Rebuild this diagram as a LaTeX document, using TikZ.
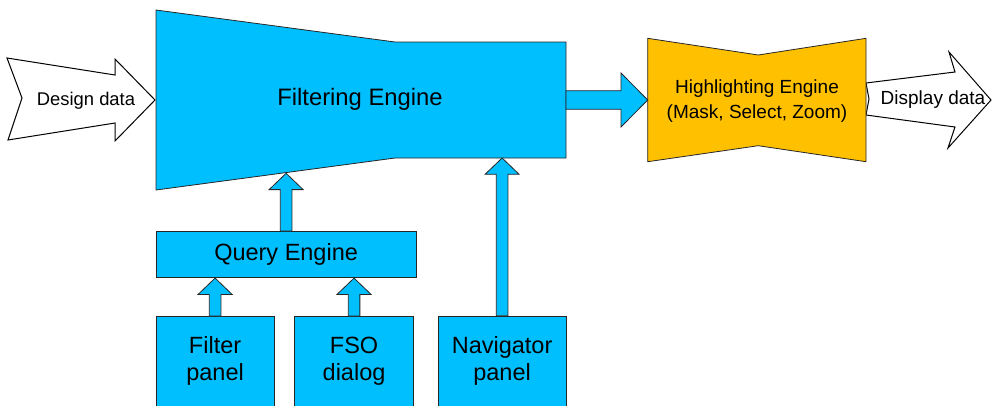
\documentclass[tikz,border=0pt]{standalone}
\usepackage{fontspec}
\setmainfont{Liberation Sans}
\usetikzlibrary{calc}
\definecolor{skyblue}{HTML}{00BFFF}
\definecolor{amber}{HTML}{FFC000}
\tikzset{
  outline/.style={draw=black!85, line width=0.8pt, line join=miter},
  bluefill/.style={outline, fill=skyblue},
  amberfill/.style={outline, fill=amber},
  whitefill/.style={draw=black, line width=1pt, line join=miter, fill=white},
  box/.style={bluefill, rectangle, inner sep=0pt, align=center,
    font=\fontsize{23.5}{27}\selectfont},
  caption/.style={inner sep=0pt, align=center},
}
% vertical block arrow: #1 = tail (on a box top), #2 = point whose height gives the tip
\newcommand{\upblock}[2]{%
  \path[bluefill] ($(#1)+(-5.8,0)$) -- ($(#1 |- #2)+(-5.8,16.3)$)
    -- ($(#1 |- #2)+(-17,16.3)$) -- (#1 |- #2) -- ($(#1 |- #2)+(17,16.3)$)
    -- ($(#1 |- #2)+(5.8,16.3)$) -- ($(#1)+(5.8,0)$) -- cycle;}
% horizontal block arrow: #1 = tail, #2 = tip
\newcommand{\rightblock}[2]{%
  \path[bluefill] ($(#1)+(0,-9.3)$) -- ($(#2 |- #1)+(-26.7,-9.3)$)
    -- ($(#2 |- #1)+(-26.7,-27)$) -- (#2 |- #1) -- ($(#2 |- #1)+(-26.7,27)$)
    -- ($(#2 |- #1)+(-26.7,9.3)$) -- ($(#1)+(0,9.3)$) -- cycle;}
\begin{document}
\begin{tikzpicture}[x=1pt, y=-1pt]
\path[use as bounding box] (0,0) rectangle (992,405);
\clip (0,0) rectangle (992,405);

% incoming design data
\path[whitefill] (7,58) -- (115,75) -- (115,59) -- (155,100) coordinate (dd-tip)
  -- (115,141) -- (115,123) -- (8,140) -- (22,98) -- cycle;
\node[caption, font=\fontsize{18.4}{22}\selectfont] (dd) at (86,101) {Design data};

% outgoing display data
\path[whitefill] (866,83) -- (955,72) -- (949,52) -- (991,100)
  -- (948,148) -- (955,127) -- (866,115) -- (869,99) -- cycle;
\node[caption, font=\fontsize{19}{23}\selectfont] (disp) at (933,100) {Display data};

% filtering engine
\path[bluefill] (156,10) -- (395,42) -- (566,42) -- (566,158)
  -- (395,158) -- (156,190) -- cycle;
\coordinate (fe-q) at (285.7,173.3);
\coordinate (fe-n) at (501.7,158);
\coordinate (fe-r) at (566,100);
\node[caption, font=\fontsize{23.8}{27}\selectfont] (fe) at (360,99) {Filtering Engine};

% highlighting engine
\path[amberfill] (647.7,38.3) -- (758.3,55) -- (866,38.3) -- (866,161.7)
  -- (758.3,145.7) -- (647.7,161.7) -- cycle;
\coordinate (he-l) at (647.7,100);
\node[caption, font=\fontsize{19}{25}\selectfont] (he) at (757,101)
  {Highlighting Engine\\(Mask, Select, Zoom)};

% query engine and its inputs
\node[box, minimum width=260pt, minimum height=46.3pt, anchor=north west]
  (qe) at (155.7,231) {Query Engine};
\node[box, minimum width=118pt, minimum height=90pt, anchor=north west]
  (fp) at (155.7,316) {Filter\\panel};
\node[box, minimum width=118.7pt, minimum height=90pt, anchor=north west]
  (fso) at (294.3,316) {FSO\\dialog};
\node[box, minimum width=128pt, minimum height=90pt, anchor=north west]
  (nav) at (437.7,315.7) {Navigator\\panel};

% block arrows
\upblock{qe.north}{fe-q}
\upblock{fp.north}{qe.south}
\upblock{fso.north}{qe.south}
\upblock{nav.north}{fe-n}
\rightblock{fe-r}{he-l}
\end{tikzpicture}
\end{document}
